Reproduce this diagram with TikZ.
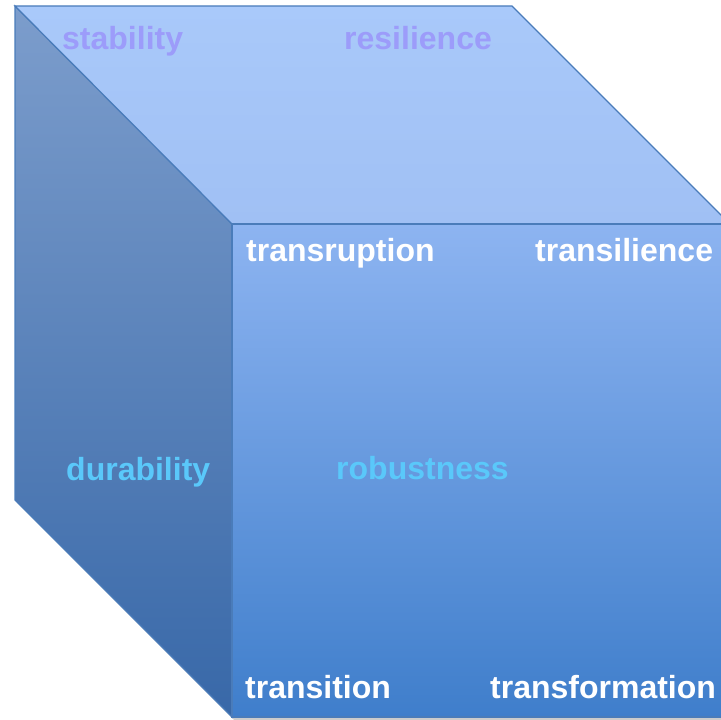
\documentclass[tikz,border=0pt]{standalone}
\usepackage{fontspec}
\setmainfont{Liberation Sans}
\usepackage{tikz}
\definecolor{topface}{RGB}{169,201,250}
\definecolor{topfaceb}{RGB}{160,192,244}
\definecolor{frontt}{RGB}{141,180,241}
\definecolor{frontb}{RGB}{63,126,203}
\definecolor{leftt}{RGB}{124,157,204}
\definecolor{leftb}{RGB}{56,104,168}
\definecolor{edge}{RGB}{74,124,186}
\definecolor{lila}{RGB}{156,156,250}
\definecolor{cyanish}{RGB}{90,200,250}
\tikzset{
  word/.style={anchor=base west, inner sep=0pt, font=\fontsize{32}{38}\selectfont\bfseries},
}
\begin{document}
\begin{tikzpicture}[x=1pt, y=1pt]
  \useasboundingbox (0,0) rectangle (721,720);
  \clip (0,0) rectangle (721,720);
  \coordinate (tbl) at (15,714);
  \coordinate (tbr) at (512,714);
  \coordinate (ftl) at (232,496);
  \coordinate (ftr) at (730,496);
  \coordinate (fbl) at (232,3);
  \coordinate (fbr) at (730,3);
  \coordinate (lbb) at (15,220);
  % shadow
  \fill[black!20] ([xshift=2pt,yshift=-3pt]lbb) -- ([xshift=2pt,yshift=-3pt]fbl) -- ([yshift=-3pt]fbr) -- (fbr) -- (fbl) -- cycle;
  % faces
  \draw[edge, line width=1.2pt, top color=leftt, bottom color=leftb] (tbl) -- (ftl) -- (fbl) -- (lbb) -- cycle;
  \draw[edge, line width=1.2pt, top color=topface, bottom color=topfaceb] (tbl) -- (tbr) -- (ftr) -- (ftl) -- cycle;
  \draw[edge, line width=1.2pt, top color=frontt, bottom color=frontb] (ftl) -- (ftr) -- (fbr) -- (fbl) -- cycle;
  % labels
  \node (stab) [word, text=lila] at (62,670) {stability};
  \node (resi) [word, text=lila] at (344,670) {resilience};
  \node (trup) [word, text=white] at (246,458) {transruption};
  \node (tsil) [word, text=white] at (535,458) {transilience};
  \node (dura) [word, text=cyanish] at (66,239) {durability};
  \node (robu) [word, text=cyanish] at (336,240) {robustness};
  \node (tion) [word, text=white] at (245,21) {transition};
  \node (tfor) [word, text=white] at (490,21) {transformation};
\end{tikzpicture}
\end{document}
